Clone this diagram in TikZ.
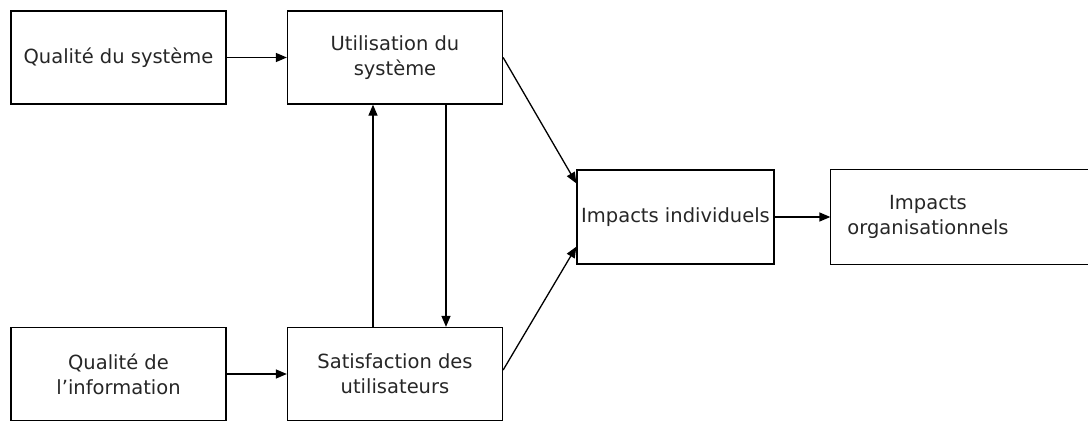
\documentclass[tikz,border=0pt]{standalone}
\usepackage{fontspec}
\setmainfont{DejaVu Sans}
\usetikzlibrary{arrows.meta}

\def\boxw{215}
\def\boxh{93}

\begin{document}
\begin{tikzpicture}[x=1pt,y=-1pt,
        box/.style={draw,line width=1.3pt,minimum width=\boxw pt,minimum height=\boxh pt,
            align=center,inner sep=0pt,font=\fontsize{19.5}{25}\selectfont,text=black!85},
        arr/.style={line width=1.3pt,-{Triangle[length=11pt,width=9pt]}}]
        \useasboundingbox (0,0) rectangle (1088,421);
        % left column
        \node[box] (qs) at (118.5,57.5) {Qualité du système};
        \node[box] (qi) at (118.5,374) {Qualité de\\l’information};
        % middle column
        \node[box] (us) at (395,57.5) {Utilisation du\\système};
        \node[box] (su) at (395,374) {Satisfaction des\\utilisateurs};
        % impacts
        \node[box,minimum width=197pt,minimum height=94pt] (ii) at (675.5,217) {Impacts individuels};
        \node[box,draw=none,minimum width=194pt,minimum height=94pt] (io) at (928,217) {Impacts\\organisationnels};
        % open frame of the last box (runs off the page)
        \draw[line width=1.3pt] (io.north west) ++(320,0) -- (io.north west) -- (io.south west) -- ++(320,0);
        % arrows
        \draw[arr] (qs.east) -- (us.west);
        \draw[arr] (qi.east) -- (su.west);
        \draw[arr] ([xshift=-22pt]su.north) -- ([xshift=-22pt]us.south);
        \draw[arr] ([xshift=51pt]us.south) -- ([xshift=51pt]su.north);
        \draw[arr] (us.east) -- ([yshift=-14pt]ii.north west);
        \draw[arr] ([yshift=4pt]su.east) -- ([yshift=18pt]ii.south west);
        \draw[arr] (ii.east) -- (io.west);
    \end{tikzpicture}
\end{document}
